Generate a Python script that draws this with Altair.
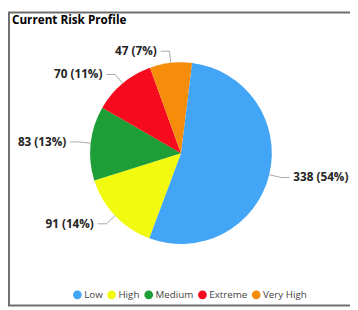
import altair as alt
import pandas as pd

# ---- data ----
categories = ["Low", "High", "Medium", "Extreme", "Very High"]
counts = [338, 91, 83, 70, 47]
colors = ["#42A5F5", "#F2FA0F", "#1E9E37", "#F50A1E", "#F58D0A"]

# ---- layout / style (plot coordinates; chart origin sits at page (8,8)) ----
W, H = 350, 302
CX, CY, R = 177, 145, 93
START_DEG = 7
FONT = "Open Sans"

df = pd.DataFrame({"category": categories, "value": counts,
                   "order": list(range(len(categories)))})

base = (
    alt.Chart(df)
    .transform_window(cum="sum(value)", sort=[alt.SortField("order")], frame=[None, 0])
    .transform_joinaggregate(total="sum(value)")
    .transform_calculate(
        a0=f"{START_DEG}*PI/180 + 2*PI*(datum.cum - datum.value)/datum.total",
        a1=f"{START_DEG}*PI/180 + 2*PI*datum.cum/datum.total",
    )
    .transform_calculate(
        mid="(datum.a0 + datum.a1)/2",
        pct="round(100*datum.value/datum.total)",
    )
    .transform_calculate(
        side="sin(datum.mid) < 0 ? -1 : 1",
        p0x=f"{CX} + {R}*sin(datum.mid)",
        p0y=f"{CY} - {R}*cos(datum.mid)",
        p1x=f"{CX} + {R + 12}*sin(datum.mid)",
        p1y=f"{CY} - {R + 12}*cos(datum.mid)",
        label="datum.value + ' (' + datum.pct + '%)'",
    )
    .transform_calculate(
        p2x="datum.p1x + 9*datum.side",
        tx="datum.p1x + 13*datum.side",
    )
)

color = alt.Color(
    "category:N",
    scale=alt.Scale(domain=categories, range=colors),
    sort=categories,
    legend=alt.Legend(
        orient="none", legendX=66, legendY=285, direction="horizontal",
        title=None, symbolType="circle", symbolSize=80, symbolStrokeWidth=0,
        labelFont=FONT, labelFontSize=10, labelColor="#444444",
        labelOffset=2, columnPadding=4, padding=0,
    ),
)

arcs = base.mark_arc(radius=R).encode(
    theta=alt.Theta("a0:Q", scale=None, stack=None),
    theta2=alt.Theta2("a1:Q"),
    x=alt.value(CX),
    y=alt.value(CY),
    color=color,
)

seg1 = base.mark_rule(color="#A8A8A8", strokeWidth=1).encode(
    x=alt.X("p0x:Q", scale=None, axis=None),
    y=alt.Y("p0y:Q", scale=None, axis=None),
    x2="p1x:Q",
    y2="p1y:Q",
)
seg2 = base.mark_rule(color="#A8A8A8", strokeWidth=1).encode(
    x=alt.X("p1x:Q", scale=None, axis=None),
    y=alt.Y("p1y:Q", scale=None, axis=None),
    x2="p2x:Q",
    y2="p1y:Q",
)

text_style = dict(baseline="middle", fontWeight="bold", fontSize=12, font=FONT, color="#252423")
left_labels = base.transform_filter("datum.side < 0").mark_text(align="right", **text_style).encode(
    x=alt.X("tx:Q", scale=None, axis=None),
    y=alt.Y("p1y:Q", scale=None, axis=None),
    text="label:N",
)
right_labels = base.transform_filter("datum.side > 0").mark_text(align="left", **text_style).encode(
    x=alt.X("tx:Q", scale=None, axis=None),
    y=alt.Y("p1y:Q", scale=None, axis=None),
    text="label:N",
)

one = alt.Data(values=[{}])
border = alt.Chart(one).mark_rect(fillOpacity=0, stroke="#6E6E6E", strokeWidth=2).encode(
    x=alt.value(1), x2=alt.value(W + 10), y=alt.value(1), y2=alt.value(H - 1)
)
title = alt.Chart(one).mark_text(
    text="Current Risk Profile", align="left", baseline="alphabetic",
    fontSize=12, fontWeight="bold", font=FONT, color="#000000",
).encode(x=alt.value(4), y=alt.value(13))

chart = (
    alt.layer(border, title, arcs, seg1, seg2, left_labels, right_labels)
    .properties(width=W, height=H, autosize="none", padding=0)
    .configure_view(stroke=None)
)

chart.save("out.html", embed_options={"renderer": "svg", "actions": False})
